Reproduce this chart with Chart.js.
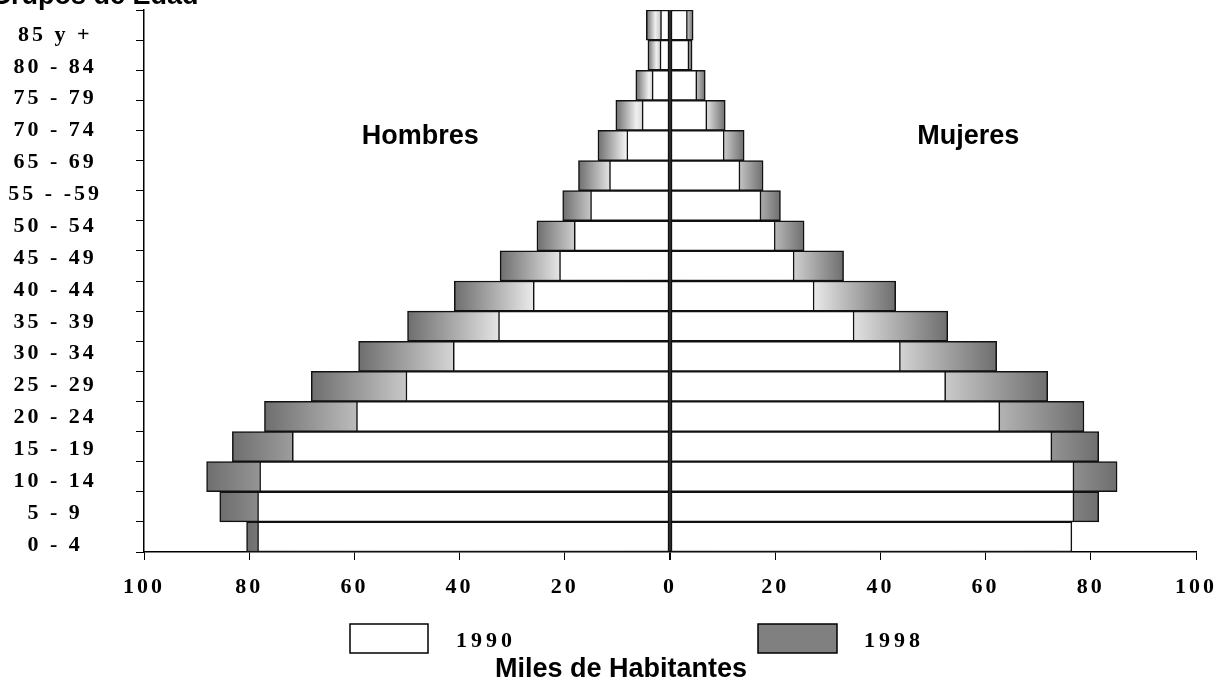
<!DOCTYPE html>
<html lang="es">
<head>
<meta charset="utf-8">
<title>Grupos de Edad - 1990 / 1998</title>
<script src="https://cdn.jsdelivr.net/npm/chart.js@4.4.1/dist/chart.umd.min.js"></script>
<style>
  html, body { margin: 0; padding: 0; background: #fff; }
  #contenedor { position: relative; width: 1220px; height: 682px; }
</style>
</head>
<body>
<div id="contenedor"><canvas id="piramide"></canvas></div>
<script>
// grupos de edad, de arriba hacia abajo
const grupos = ['85 y +', '80 - 84', '75 - 79', '70 - 74', '65 - 69', '60 - 64', '55 - 59', '50 - 54', '45 - 49',
    '40 - 44', '35 - 39', '30 - 34', '25 - 29', '20 - 24', '15 - 19', '10 - 14', '5 - 9', '0 - 4'];
// etiquetas tal como aparecen en el eje (falta 60 - 64)
const etiquetasEje = ['85 y +', '80 - 84', '75 - 79', '70 - 74', '65 - 69', '55 - -59', '50 - 54', '45 - 49',
    '40 - 44', '35 - 39', '30 - 34', '25 - 29', '20 - 24', '15 - 19', '10 - 14', '5 - 9', '0 - 4'];
const ticksX = [-100, -80, -60, -40, -20, 0, 20, 40, 60, 80, 100];

// miles de habitantes
const hombres1990 = [1.8, 1.9, 3.4, 5.3, 8.2, 11.5, 15.1, 18.2, 21.0, 26.0, 32.6, 41.2, 50.2, 59.6, 71.8, 78.0, 78.4, 78.4];
const hombres1998 = [4.5, 4.2, 6.5, 10.3, 13.7, 17.4, 20.4, 25.3, 32.3, 41.0, 49.9, 59.2, 68.2, 77.1, 83.2, 88.1, 85.6, 80.5];
const mujeres1990 = [3.3, 3.6, 5.1, 7.0, 10.3, 13.3, 17.3, 20.0, 23.6, 27.4, 35.0, 43.8, 52.4, 62.7, 72.6, 76.8, 76.8, 76.4];
const mujeres1998 = [4.4, 4.2, 6.7, 10.5, 14.1, 17.7, 21.0, 25.5, 33.0, 42.9, 52.8, 62.1, 71.8, 78.7, 81.5, 85.0, 81.5, 76.0];

const fuenteSerif = '"Liberation Serif", "Times New Roman", serif';
const fuenteSans = '"Liberation Sans", Arial, sans-serif';

// degradado tipo cilindro para las barras de 1998
function degradado(context) {
    const chart = context.chart;
    if (!chart.chartArea || context.type !== 'data') return '#808080';
    const x = chart.scales.x;
    const x0 = x.getPixelForValue(0);
    const x1 = x.getPixelForValue(context.raw);
    if (x0 === x1) return '#808080';
    const g = chart.ctx.createLinearGradient(x0, 0, x1, 0);
    g.addColorStop(0, '#7c7c7c');
    g.addColorStop(0.62, '#efefef');
    g.addColorStop(1, '#6e6e6e');
    return g;
}

const textos = {
    id: 'textos',
    beforeDraw(chart) {
        chart.ctx.letterSpacing = '3px';
    },
    afterDraw(chart) {
        const {ctx, scales: {x, y}} = chart;
        ctx.save();
        ctx.fillStyle = '#000';
        ctx.letterSpacing = '0px';
        ctx.font = 'bold 27px ' + fuenteSans;
        ctx.textBaseline = 'middle';
        ctx.textAlign = 'center';
        ctx.fillText('Hombres', x.getPixelForValue(-47.5), y.getPixelForValue(3.7));
        ctx.fillText('Mujeres', x.getPixelForValue(56.7), y.getPixelForValue(3.7));
        ctx.textBaseline = 'alphabetic';
        ctx.fillText('Miles de Habitantes', 621, 677);
        ctx.textAlign = 'left';
        ctx.fillText('Grupos de Edad', -10, 4);

        // leyenda
        ctx.lineWidth = 1.5;
        ctx.strokeStyle = '#000';
        ctx.fillStyle = '#fff';
        ctx.fillRect(350, 624, 78, 29);
        ctx.strokeRect(350, 624, 78, 29);
        ctx.fillStyle = '#808080';
        ctx.fillRect(758, 624, 79, 29);
        ctx.strokeRect(758, 624, 79, 29);
        ctx.fillStyle = '#000';
        ctx.letterSpacing = '4px';
        ctx.font = 'bold 22px ' + fuenteSerif;
        ctx.textBaseline = 'middle';
        ctx.fillText('1990', 456, 641);
        ctx.fillText('1998', 864, 641);
        ctx.restore();
    }
};

const ctx = document.getElementById('piramide');
new Chart(ctx, {
    type: 'bar',
    data: {
        labels: grupos,
        datasets: [
            {label: 'Hombres 1990', data: hombres1990.map(v => -v), backgroundColor: '#ffffff', order: 1},
            {label: 'Mujeres 1990', data: mujeres1990, backgroundColor: '#ffffff', order: 1},
            {label: 'Hombres 1998', data: hombres1998.map(v => -v), backgroundColor: degradado, order: 2},
            {label: 'Mujeres 1998', data: mujeres1998, backgroundColor: degradado, order: 2}
        ]
    },
    options: {
        indexAxis: 'y',
        responsive: true,
        maintainAspectRatio: false,
        animation: false,
        layout: {padding: {top: 10, right: 24, left: 0, bottom: 0}},
        datasets: {
            bar: {
                grouped: false,
                barPercentage: 1,
                categoryPercentage: 1,
                borderColor: '#111',
                borderWidth: 1.5,
                borderSkipped: false
            }
        },
        plugins: {
            legend: {display: false},
            tooltip: {enabled: false}
        },
        scales: {
            x: {
                type: 'linear',
                min: -100,
                max: 100,
                z: 1,
                afterBuildTicks: scale => { scale.ticks = ticksX.map(v => ({value: v})); },
                afterFit: scale => {
                    scale.height = 130;
                    scale.paddingLeft = 0;
                    scale.paddingRight = 0;
                },
                ticks: {
                    color: '#000',
                    padding: 14,
                    font: {family: fuenteSerif, size: 22, weight: 'bold'},
                    callback: v => Math.abs(v)
                },
                grid: {
                    drawOnChartArea: true,
                    color: c => (c.tick && c.tick.value === 0) ? '#333' : 'rgba(0,0,0,0)',
                    lineWidth: c => (c.tick && c.tick.value === 0) ? 2 : 1,
                    tickColor: '#000',
                    tickLength: 8
                },
                border: {display: true, color: '#000', width: 1.5}
            },
            y: {
                type: 'category',
                offset: true,
                weight: 0,
                afterFit: scale => { scale.width = 34; },
                ticks: {display: false, autoSkip: false},
                grid: {offset: true, drawOnChartArea: false, tickColor: '#000', tickLength: 8},
                border: {display: true, color: '#000', width: 1.5}
            },
            yEtiquetas: {
                type: 'category',
                axis: 'y',
                position: 'left',
                labels: etiquetasEje,
                offset: true,
                weight: 1,
                afterFit: scale => {
                    scale.width = 110;
                    scale.paddingTop = 0;
                    scale.paddingBottom = 0;
                },
                grid: {display: false, drawTicks: false},
                border: {display: false},
                ticks: {
                    autoSkip: false,
                    color: '#000',
                    crossAlign: 'center',
                    padding: 20,
                    labelOffset: 9,
                    font: {family: fuenteSerif, size: 22, weight: 'bold'}
                }
            }
        }
    },
    plugins: [textos]
});
</script>
</body>
</html>
